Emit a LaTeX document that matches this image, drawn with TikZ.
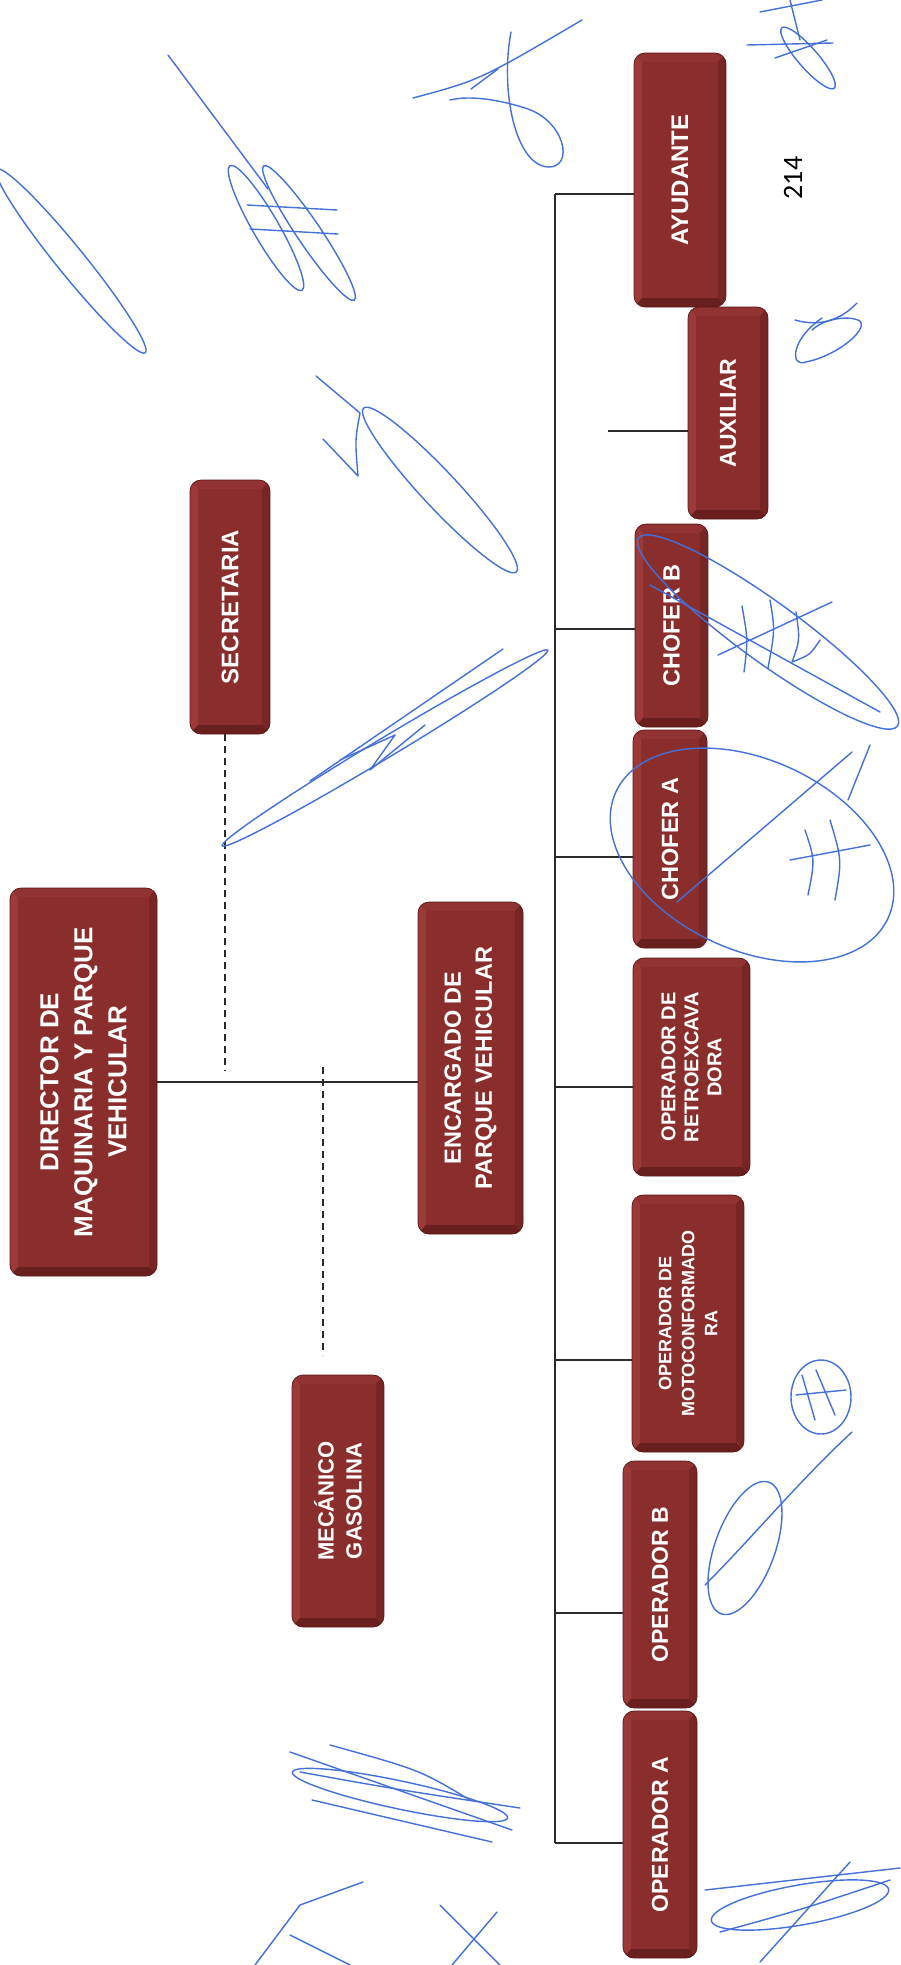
\documentclass[tikz,border=0pt]{standalone}
\usepackage{fontspec}
\setmainfont{Liberation Sans}
\newfontfamily\pagefont{Carlito}
\definecolor{boxface}{HTML}{8A2D2D}
\definecolor{boxedge}{HTML}{5A1919}
\definecolor{bevleft}{HTML}{9C3A3A}
\definecolor{bevtop}{HTML}{913333}
\definecolor{bevright}{HTML}{772525}
\definecolor{bevbottom}{HTML}{6A1F1F}
\definecolor{linecol}{HTML}{2A2A2A}
\definecolor{sigblue}{HTML}{4470D8}
\tikzset{
  boxtext/.style={rotate=90, inner sep=0pt, text=white, align=center, draw=none},
  conn/.style={draw=linecol, line width=1.3pt},
  dashline/.style={draw=linecol, line width=1.6pt, dash pattern=on 7pt off 5pt},
  sig/.style={draw=sigblue, line width=1.4pt, line cap=round, line join=round},
}
% name, cx, cy, w, h, fontsize, leading, text
\newcommand{\orgbox}[8]{%
  \begin{scope}[shift={(#2,#3)}]
    \begin{scope}
      \clip[rounded corners=11pt] (-#4/2,-#5/2) rectangle (#4/2,#5/2);
      \fill[boxface] (-#4/2,-#5/2) rectangle (#4/2,#5/2);
      \fill[bevleft] (-#4/2,-#5/2) -- (-#4/2+8,-#5/2+9) -- (-#4/2+8,#5/2-9) -- (-#4/2,#5/2) -- cycle;
      \fill[bevtop] (-#4/2,-#5/2) -- (#4/2,-#5/2) -- (#4/2-8,-#5/2+9) -- (-#4/2+8,-#5/2+9) -- cycle;
      \fill[bevright] (#4/2,-#5/2) -- (#4/2,#5/2) -- (#4/2-8,#5/2-9) -- (#4/2-8,-#5/2+9) -- cycle;
      \fill[bevbottom] (-#4/2,#5/2) -- (#4/2,#5/2) -- (#4/2-8,#5/2-9) -- (-#4/2+8,#5/2-9) -- cycle;
    \end{scope}
    \draw[boxedge, line width=0.7pt, rounded corners=11pt] (-#4/2,-#5/2) rectangle (#4/2,#5/2);
  \end{scope}
  \node[boxtext, minimum width=#5pt, minimum height=#4pt, font=\bfseries\fontsize{#6}{#7}\selectfont] (#1) at (#2,#3) {#8};
}
\begin{document}
\begin{tikzpicture}[x=1pt,y=-1pt]
\useasboundingbox[fill=white] (0,0) rectangle (901,1965);

% boxes
\orgbox{dir}{83.5}{1082}{147}{388}{26pt}{34pt}{DIRECTOR DE\\MAQUINARIA Y PARQUE\\VEHICULAR}
\orgbox{sec}{230}{607}{80}{254}{24pt}{30pt}{SECRETARIA}
\orgbox{enc}{470.5}{1068}{105}{332}{23.5pt}{31pt}{ENCARGADO DE\\PARQUE VEHICULAR}
\orgbox{mec}{338}{1501}{92}{252}{22pt}{28pt}{MECÁNICO\\GASOLINA}
\orgbox{ayu}{680}{180}{92}{254}{24pt}{30pt}{AYUDANTE}
\orgbox{aux}{728}{413}{80}{212}{23pt}{30pt}{AUXILIAR}
\orgbox{chb}{671.5}{625.5}{73}{203}{23.5pt}{30pt}{CHOFER B}
\orgbox{cha}{670}{839}{74}{218}{23.5pt}{30pt}{CHOFER A}
\orgbox{ret}{691.5}{1067}{117}{218}{20pt}{23pt}{OPERADOR DE\\RETROEXCAVA\\DORA}
\orgbox{mot}{688}{1323.5}{112}{257}{18pt}{23pt}{OPERADOR DE\\MOTOCONFORMADO\\RA}
\orgbox{opb}{660}{1584.5}{74}{247}{23pt}{30pt}{OPERADOR B}
\orgbox{opa}{660}{1834.5}{74}{247}{23pt}{30pt}{OPERADOR A}

% page number
\node[rotate=90, inner sep=0pt, font=\pagefont\fontsize{28pt}{30pt}\selectfont] (pg) at (793,178) {214};

% connectors
\draw[conn] (dir.south) -- (dir.south -| enc.north);
\coordinate (sd) at (225,1071);
\draw[dashline] (sd |- sec.west) -- (sd);
\coordinate (md) at (323,1067);
\coordinate (me) at (323,1355);
\draw[dashline] (md) -- (me);

\coordinate (bt) at (555,194);
\coordinate (bb) at (555,1843);
\draw[conn] (bt) -- (bb);
\coordinate (s1) at (555,194);
\coordinate (s2) at (555,629);
\coordinate (s3) at (555,857);
\coordinate (s4) at (555,1087);
\coordinate (s5) at (555,1360);
\coordinate (s6) at (555,1613);
\coordinate (s7) at (555,1843);
\draw[conn] (s1) -- (s1 -| ayu.north);
\draw[conn] (s2) -- (s2 -| chb.north);
\draw[conn] (s3) -- (s3 -| cha.north);
\draw[conn] (s4) -- (s4 -| ret.north);
\draw[conn] (s5) -- (s5 -| mot.north);
\draw[conn] (s6) -- (s6 -| opb.north);
\draw[conn] (s7) -- (s7 -| opa.north);
\coordinate (ax) at (608,431);
\draw[conn] (ax) -- (ax -| aux.north);

% signatures (hand-drawn ink)
\draw[sig, rotate around={-51:(71,261)}] (71,261) ellipse [x radius=118pt, y radius=14pt];
\draw[sig] (168,55) -- (268,189);
\draw[sig, rotate around={-60:(266,228)}] (266,228) ellipse [x radius=72pt, y radius=13pt];
\draw[sig, rotate around={-56:(309,233)}] (309,233) ellipse [x radius=81pt, y radius=12pt];
\draw[sig] (247,205) -- (337,210);
\draw[sig] (250,229) -- (338,234);
\draw[sig] (413,98) .. controls (480,80) .. (582,20);
\draw[sig] (471,89) -- (498,69);
\draw[sig] (511,32) .. controls (500,90) and (515,165) .. (548,167) .. controls (575,168) and (565,120) .. (525,108) .. controls (500,100) and (470,95) .. (450,100);
\draw[sig] (316,376) -- (360,413) .. controls (355,440) .. (358,476) -- (323,439);
\draw[sig, rotate around={-47:(440,490)}] (440,490) ellipse [x radius=112pt, y radius=18pt];
\draw[sig, rotate around={31:(385,748)}] (385,748) ellipse [x radius=190pt, y radius=10pt];
\draw[sig] (310,781) -- (503,649);
\draw[sig] (340,760) -- (395,735) -- (370,770) -- (425,725);
\draw[sig, rotate around={-49:(808,58)}] (808,58) ellipse [x radius=40pt, y radius=10pt];
\draw[sig] (747,45) -- (833,43);
\draw[sig] (775,58) -- (827,40);
\draw[sig] (760,12) -- (822,0);
\draw[sig] (790,0) -- (800,40);
\draw[sig] (795,320) .. controls (830,330) and (850,310) .. (857,303);
\draw[sig] (822,318) .. controls (790,340) and (790,368) .. (806,362) .. controls (840,355) and (872,326) .. (858,320) .. controls (848,316) and (825,318) .. (812,330);
\draw[sig, rotate around={-36:(768,632)}] (768,632) ellipse [x radius=160pt, y radius=30pt];
\draw[sig] (650,585) -- (880,712);
\draw[sig] (718,655) -- (832,602);
\draw[sig] (742,606) .. controls (748,640) .. (744,672);
\draw[sig] (770,600) .. controls (775,630) .. (768,668);
\draw[sig] (796,612) .. controls (800,640) .. (792,662) .. controls (810,655) .. (820,640);
\draw[sig, rotate around={-25:(752,855)}] (752,855) ellipse [x radius=150pt, y radius=95pt];
\draw[sig] (677,902) -- (852,752);
\draw[sig] (848,800) -- (870,745);
\draw[sig] (805,830) .. controls (815,860) .. (808,895);
\draw[sig] (830,820) .. controls (842,860) .. (835,900);
\draw[sig] (790,860) -- (870,845);
\draw[sig] (821,1397) ellipse [x radius=30pt, y radius=37pt];
\draw[sig] (802,1375) -- (815,1420);
\draw[sig] (816,1370) -- (835,1415);
\draw[sig] (796,1395) -- (846,1390);
\draw[sig] (852,1432) .. controls (800,1480) and (750,1540) .. (705,1585);
\draw[sig, rotate around={70:(745,1548)}] (745,1548) ellipse [x radius=70pt, y radius=30pt];
\draw[sig] (290,1752) -- (512,1830);
\draw[sig] (300,1772) .. controls (400,1790) .. (520,1808);
\draw[sig] (312,1800) -- (492,1842);
\draw[sig] (330,1745) .. controls (420,1770) .. (470,1800);
\draw[sig, rotate around={-12:(400,1795)}] (400,1795) ellipse [x radius=110pt, y radius=14pt];
\draw[sig] (255,1965) -- (300,1905) -- (363,1882);
\draw[sig] (290,1935) -- (350,1965);
\draw[sig] (440,1905) -- (500,1965);
\draw[sig] (452,1965) -- (497,1912);
\draw[sig] (705,1890) -- (900,1868);
\draw[sig] (720,1932) .. controls (800,1910) .. (890,1880);
\draw[sig, rotate around={10:(800,1905)}] (800,1905) ellipse [x radius=90pt, y radius=20pt];
\draw[sig] (760,1962) -- (850,1862);
\end{tikzpicture}
\end{document}
